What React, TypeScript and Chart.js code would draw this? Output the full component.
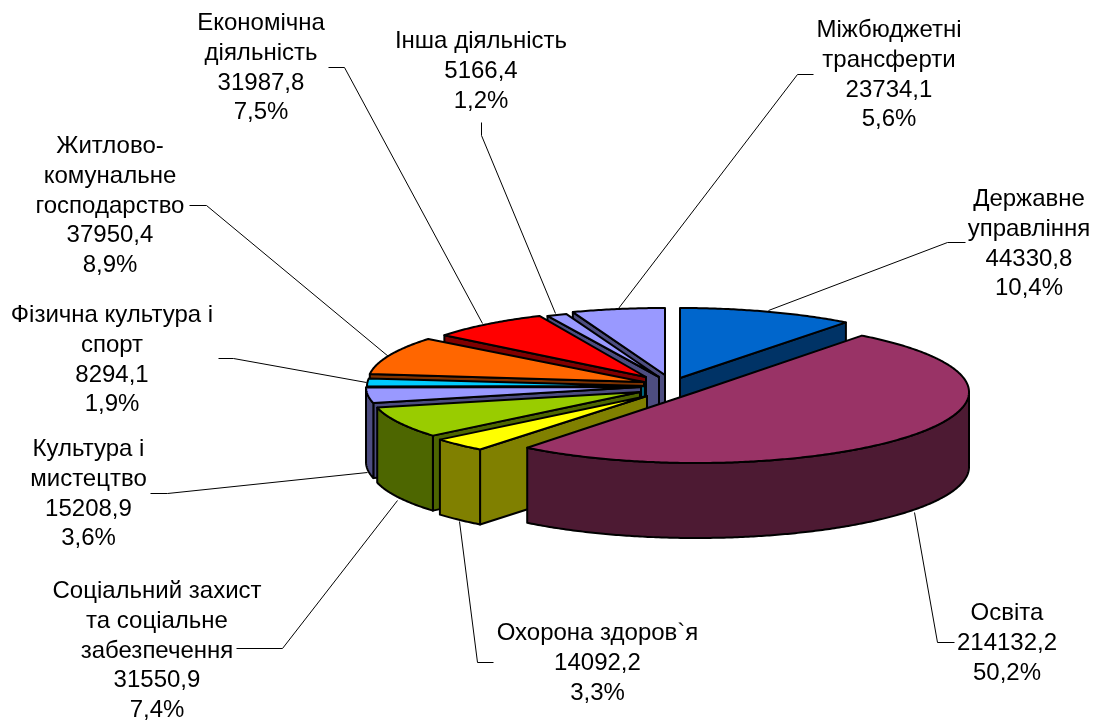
import React, { useEffect, useRef } from "react";
import { Chart, registerables } from "chart.js";

Chart.register(...registerables);

const categories = [
  ["Державне", "управління"],
  ["Освіта"],
  ["Охорона здоров`я"],
  ["Соціальний захист", "та соціальне", "забезпечення"],
  ["Культура і", "мистецтво"],
  ["Фізична культура і", "спорт"],
  ["Житлово-", "комунальне", "господарство"],
  ["Економічна", "діяльність"],
  ["Інша діяльність"],
  ["Міжбюджетні", "трансферти"],
];
const values = [44330.8, 214132.2, 14092.2, 31550.9, 15208.9, 8294.1, 37950.4, 31987.8, 5166.4, 23734.1];
const valueLabels = ["44330,8", "214132,2", "14092,2", "31550,9", "15208,9", "8294,1", "37950,4", "31987,8", "5166,4", "23734,1"];
const percentLabels = ["10,4%", "50,2%", "3,3%", "7,4%", "3,6%", "1,9%", "8,9%", "7,5%", "1,2%", "5,6%"];
const topColors = ["#0066CC", "#993366", "#FFFF00", "#99CC00", "#9999FF", "#00CCFF", "#FF6600", "#FF0000", "#9999FF", "#9999FF"];
const wallColors = ["#003366", "#4D1A33", "#808000", "#4D6600", "#4D4D80", "#006680", "#803300", "#800000", "#4D4D80", "#4D4D80"];

// Projected geometry of every exploded slice: centre x, centre y, radius x, radius y
const sliceGeometry = [
  [680, 378, 273, 70],
  [696, 392, 273, 71],
  [647, 396, 270, 68],
  [640, 392, 270, 68],
  [641, 387, 275, 70],
  [645, 386, 278, 66],
  [644, 382, 276, 69],
  [646, 377, 258, 67],
  [659, 377, 270, 67],
  [665, 375, 269, 67],
];
const paintOrder = [0, 9, 8, 7, 6, 5, 4, 3, 2, 1];
const wallDepth = 75;

// Text blocks: centre x and first-line baseline y
const labelAnchors = [
  [1029, 206],
  [1007, 620],
  [597.5, 640],
  [157, 598],
  [88.5, 456],
  [112, 322],
  [110, 153],
  [261, 30],
  [481, 48],
  [889, 37],
];
const leaderLines = [
  [[768, 310], [947, 242], [965, 242]],
  [[914, 512], [937, 642], [954, 642]],
  [[459, 521], [477, 662], [493, 662]],
  [[397, 500], [282, 648], [236, 648]],
  [[367, 472], [167, 493], [150, 493]],
  [[366, 382], [233, 358], [218, 358]],
  [[388, 356], [206, 205], [189, 205]],
  [[482, 323], [344, 67], [328, 67]],
  [[555, 313], [481, 135], [481, 122]],
  [[618, 308], [797, 74], [813, 74]],
];

const FONT = '24px "Liberation Sans", Arial, sans-serif';
const LINE = 29.75;

const pie3d = {
  id: "pie3d",
  beforeDatasetDraw(chart: any) {
    const ctx = chart.ctx as CanvasRenderingContext2D;
    const arcs = chart.getDatasetMeta(0).data;
    ctx.save();
    ctx.lineJoin = "round";
    // leader lines sit below the pie
    ctx.strokeStyle = "#000";
    ctx.lineWidth = 1;
    leaderLines.forEach((l) => {
      ctx.beginPath();
      l.forEach(([x, y], i) => (i ? ctx.lineTo(x + 0.5, y + 0.5) : ctx.moveTo(x + 0.5, y + 0.5)));
      ctx.stroke();
    });
    ctx.lineWidth = 2;

    paintOrder.forEach((i) => {
      const arc = arcs[i];
      const { x, y, startAngle, endAngle, outerRadius } = arc.getProps(
        ["x", "y", "startAngle", "endAngle", "outerRadius"],
        true
      );
      const [cx, cy, rx, ry] = sliceGeometry[i];
      const rim = (a: number, z = 0): [number, number] => [cx + rx * Math.cos(a), cy + ry * Math.sin(a) + z];
      const shape = (pts: [number, number][], fill: string | null) => {
        ctx.beginPath();
        pts.forEach((p, k) => (k ? ctx.lineTo(p[0], p[1]) : ctx.moveTo(p[0], p[1])));
        ctx.closePath();
        if (fill) {
          ctx.fillStyle = fill;
          ctx.fill();
        }
        ctx.stroke();
      };
      const sweep = (a0: number, a1: number, z: number) => {
        const pts: [number, number][] = [];
        const n = Math.max(2, Math.ceil((a1 - a0) / 0.01));
        for (let k = 0; k <= n; k++) pts.push(rim(a0 + ((a1 - a0) * k) / n, z));
        return pts;
      };
      // radial walls that face the viewer
      if (Math.cos(startAngle) < -1e-6) {
        shape([[cx, cy], rim(startAngle), rim(startAngle, wallDepth), [cx, cy + wallDepth]], wallColors[i]);
      }
      if (Math.cos(endAngle) > 1e-6) {
        shape([[cx, cy], rim(endAngle), rim(endAngle, wallDepth), [cx, cy + wallDepth]], wallColors[i]);
      }
      // outer wall: only the part of the rim that faces the viewer
      const norm = startAngle < 0 ? 2 * Math.PI : 0;
      const ranges = norm ? [[startAngle, endAngle], [startAngle + norm, endAngle + norm]] : [[startAngle, endAngle]];
      ranges.forEach(([s, e]) => {
        const a0 = Math.max(s, 0);
        const a1 = Math.min(e, Math.PI);
        if (a1 > a0) {
          shape([...sweep(a0, a1, 0), ...sweep(a0, a1, wallDepth).reverse()], wallColors[i]);
        }
      });
      // top face: the library's own arc, through the projection
      ctx.save();
      ctx.translate(cx, cy);
      ctx.scale(rx / outerRadius, ry / outerRadius);
      ctx.translate(-x, -y);
      arc.draw(ctx);
      ctx.restore();
      ctx.lineWidth = 2;
      ctx.strokeStyle = "#000";
      shape([[cx, cy], ...sweep(startAngle, endAngle, 0)], null);
    });

    // data labels
    ctx.fillStyle = "#000";
    ctx.font = FONT;
    ctx.textAlign = "center";
    ctx.textBaseline = "alphabetic";
    categories.forEach((lines, i) => {
      const [lx, ly] = labelAnchors[i];
      [...lines, valueLabels[i], percentLabels[i]].forEach((t, k) => ctx.fillText(t, lx, ly + k * LINE));
    });
    ctx.restore();
    return false;
  },
};

export default function App() {
  const ref = useRef<HTMLCanvasElement>(null);
  useEffect(() => {
    const chart = new Chart(ref.current as HTMLCanvasElement, {
      type: "pie",
      data: {
        labels: categories.map((c) => c.join(" ")),
        datasets: [{ data: values, backgroundColor: topColors, borderWidth: 0, offset: 0 }],
      },
      options: {
        responsive: false,
        animation: false,
        layout: { padding: 0 },
        plugins: { legend: { display: false }, tooltip: { enabled: false } },
      },
      plugins: [pie3d],
    } as any);
    return () => chart.destroy();
  }, []);
  return (
    <div style={{ position: "absolute", left: 0, top: 0, width: 1095, height: 720, background: "#fff" }}>
      <canvas ref={ref} width={1095} height={720} style={{ display: "block" }} />
    </div>
  );
}
